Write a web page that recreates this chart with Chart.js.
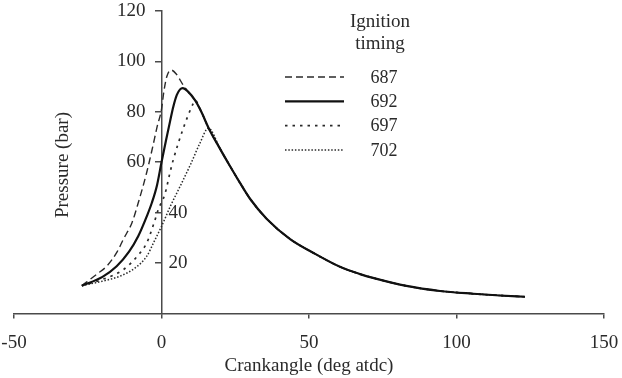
<!DOCTYPE html>
<html>
<head>
<meta charset="utf-8">
<script src="https://cdn.jsdelivr.net/npm/chart.js@4/dist/chart.umd.min.js"></script>
<style>
  html, body { margin: 0; padding: 0; background: #fff; }
  #wrap { width: 622px; height: 378px; position: relative; }
</style>
</head>
<body>
<div id="wrap"><canvas id="c" width="622" height="378"></canvas></div>
<script>
// ---- data ----
const seriesLabels = ['687', '692', '697', '702'];

const angle687    = [-27, -22, -18.6, -15, -12.9, -10, -7.9, -5, -3, -1.5, 0, 0.8, 1.8, 3.2, 5, 7.4];
const pressure687 = [11, 15.5, 18.7, 24.5, 29.5, 36, 43.8, 56, 66, 74, 81, 88, 94, 96.6, 95, 90.5];

const angle692    = [-27, -20, -15.2, -11, -7.9, -5, -3.3, -1.5, 0, 1.5, 2.9, 4, 5.2, 6.3, 7.2];
const pressure692 = [11, 14.5, 18.7, 24.5, 30.6, 38.5, 43.8, 51, 60, 68.5, 76.2, 82, 86.7, 88.9, 89.4];

const angle697    = [-27, -20, -12.9, -8, -5, -2.5, -1.1, 1.2, 2.9, 4, 7.4, 10.8, 11.4];
const pressure697 = [11, 13.5, 17.4, 23, 28, 36, 41.2, 47.5, 56, 61, 73.5, 83.4, 84.5];

const angle702    = [-27, -20, -14, -9, -5, -2.5, 0, 3, 6.3, 10, 13, 15.9];
const pressure702 = [11, 12.8, 14.8, 18, 22.7, 28.5, 34.5, 42.5, 50.4, 59.5, 67.5, 73.5];

// common expansion curve shared by all ignition timings
const expansionAngle    = [9, 11.4, 13.5, 16, 20, 23.2, 26.5, 30, 35.7, 43.6, 51.5, 60.5, 67.3, 72, 83, 94.4, 105.7, 114.7, 123.2];
const expansionPressure = [88, 84.5, 80, 73.5, 65, 58.5, 52, 45.5, 37.5, 29.5, 24, 18.5, 15.6, 14, 10.9, 8.9, 7.8, 7.1, 6.6];

const xTickValues = [-50, 0, 50, 100, 150];
const yTickValues = [0, 20, 40, 60, 80, 100, 120];
const yLabelsLeft = [60, 80, 100, 120];
const yLabelsRight = [20, 40];

// ---- build point lists ----
function buildSeries(angles, pressures) {
  const pts = angles.map((a, i) => ({ x: a, y: pressures[i] }));
  const last = angles[angles.length - 1];
  expansionAngle.forEach((a, i) => { if (a > last + 0.5) pts.push({ x: a, y: expansionPressure[i] }); });
  return pts;
}

const FONT = '"Liberation Serif", "Times New Roman", serif';
const TEXT = '#2a2a2a';
const AXIS = '#4a4a4a';

const datasets = [
  { label: seriesLabels[0], data: buildSeries(angle687, pressure687), borderColor: '#2a2a2a', borderWidth: 1.4, borderDash: [7, 4] },
  { label: seriesLabels[1], data: buildSeries(angle692, pressure692), borderColor: '#111', borderWidth: 2.2, borderDash: [], order: -1 },
  { label: seriesLabels[2], data: buildSeries(angle697, pressure697), borderColor: '#2a2a2a', borderWidth: 1.7, borderDash: [2.5, 5] },
  { label: seriesLabels[3], data: buildSeries(angle702, pressure702), borderColor: '#2a2a2a', borderWidth: 1.5, borderDash: [1.5, 1.8] }
].map(d => Object.assign({ pointRadius: 0, fill: false, cubicInterpolationMode: 'monotone', showLine: true }, d));

const noScalePadding = s => { s.paddingLeft = 0; s.paddingRight = 0; s.paddingTop = 0; s.paddingBottom = 0; };

// shift y-axis labels: main labels left of the tick marks, 20/40 right of the axis
const axisLabelPlacement = {
  id: 'axisLabelPlacement',
  beforeDraw(chart) {
    const area = chart.chartArea;
    const y = chart.scales.y, y2 = chart.scales.y2;
    y.getLabelItems(area).forEach(it => {
      if (!it._moved) { it.options.translation[0] -= 16; it.options.textAlign = 'right'; it._moved = true; }
    });
    y2.getLabelItems(area).forEach(it => {
      if (!it._moved) { it.options.translation[0] += 7; it.options.textAlign = 'left'; it._moved = true; }
    });
  }
};

// custom legend + y axis title
const decorations = {
  id: 'decorations',
  afterDraw(chart) {
    const ctx = chart.ctx;
    ctx.save();
    ctx.fillStyle = TEXT;
    ctx.font = '19px ' + FONT;
    ctx.textAlign = 'center';
    ctx.textBaseline = 'middle';
    ctx.fillText('Ignition', 380, 22);
    ctx.fillText('timing', 380, 44);
    ctx.font = '18px ' + FONT;
    chart.data.datasets.forEach((ds, i) => {
      const yy = 77 + i * 24.3;
      ctx.save();
      ctx.strokeStyle = ds.borderColor;
      ctx.lineWidth = ds.borderWidth;
      ctx.setLineDash(ds.borderDash || []);
      ctx.beginPath();
      ctx.moveTo(285, yy);
      ctx.lineTo(344, yy);
      ctx.stroke();
      ctx.restore();
      ctx.fillText(ds.label, 384, yy + 1);
    });
    ctx.translate(63, 165);
    ctx.rotate(-Math.PI / 2);
    ctx.font = '19px ' + FONT;
    ctx.fillText('Pressure (bar)', 0, 0);
    ctx.restore();
  }
};

new Chart(document.getElementById('c'), {
  type: 'scatter',
  data: { datasets },
  options: {
    responsive: false,
    animation: false,
    devicePixelRatio: 1,
    layout: { padding: { left: 14, right: 18, top: 11, bottom: 0 } },
    plugins: { legend: { display: false }, tooltip: { enabled: false } },
    scales: {
      x: {
        type: 'linear', min: -50, max: 150,
        afterBuildTicks: s => { s.ticks = xTickValues.map(v => ({ value: v })); },
        afterFit: noScalePadding,
        ticks: { font: { family: FONT, size: 19 }, color: TEXT, padding: 13, maxRotation: 0 },
        grid: { drawOnChartArea: false, drawTicks: true, tickLength: 5, color: AXIS, lineWidth: 1.5 },
        border: { display: true, color: AXIS, width: 1.5 },
        title: { display: true, text: 'Crankangle (deg atdc)', font: { family: FONT, size: 19 }, color: TEXT, padding: { top: -13, bottom: 1 } }
      },
      y: {
        type: 'linear', min: 0, max: 120, position: { x: 0 },
        afterFit: s => { s.width = 0; noScalePadding(s); },
        afterBuildTicks: s => { s.ticks = yTickValues.map(v => ({ value: v })); },
        ticks: { font: { family: FONT, size: 19 }, color: TEXT, padding: 10,
                 callback: v => (yLabelsLeft.includes(v) ? String(v) : '') },
        grid: { drawOnChartArea: false, drawTicks: true, tickLength: 6,
                color: c => (c.tick && c.tick.value === 0 ? 'rgba(0,0,0,0)' : AXIS), lineWidth: 1.5 },
        border: { display: true, color: AXIS, width: 1.5 }
      },
      y2: {
        axis: 'y', type: 'linear', min: 0, max: 120, position: { x: 0 },
        afterFit: s => { s.width = 0; noScalePadding(s); },
        afterBuildTicks: s => { s.ticks = yLabelsRight.map(v => ({ value: v })); },
        ticks: { font: { family: FONT, size: 19 }, color: TEXT, padding: 7 },
        grid: { display: false, drawTicks: false },
        border: { display: false }
      }
    }
  },
  plugins: [axisLabelPlacement, decorations]
});
</script>
</body>
</html>
